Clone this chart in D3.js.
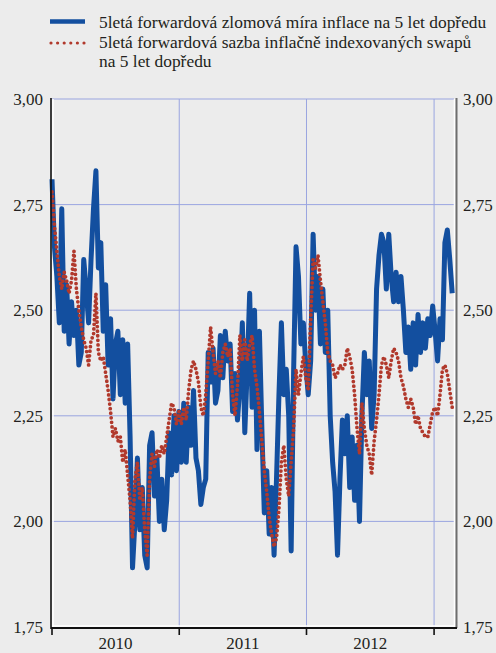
<!DOCTYPE html>
<html>
<head>
<meta charset="utf-8">
<script src="https://cdn.jsdelivr.net/npm/d3@7"></script>
<style>
  body { margin: 0; background: #ececec; }
  svg { display: block; }
  text { font-family: "Liberation Serif", "Times New Roman", serif; fill: #231f20; }
</style>
</head>
<body>
<div id="chart"></div>
<script>
// weekly observations starting 1 Jan 2010
const startDate = new Date(2010, 0, 1)

// 5y5y breakeven inflation rate
const breakeven = [
  2.81,2.65,2.58,2.47,2.74,2.45,2.56,2.42,2.52,2.44,
  2.50,2.37,2.40,2.62,2.55,2.47,2.62,2.74,2.83,2.60,
  2.66,2.45,2.56,2.37,2.48,2.29,2.42,2.45,2.30,2.43,
  2.28,2.42,2.20,1.89,2.00,2.15,1.98,2.08,1.92,1.89,
  2.18,2.21,2.06,2.15,2.00,2.10,1.98,2.05,2.21,2.11,
  2.25,2.12,2.26,2.14,2.28,2.14,2.27,2.18,2.31,2.15,
  2.12,2.04,2.08,2.10,2.40,2.33,2.41,2.28,2.31,2.44,
  2.34,2.45,2.38,2.42,2.26,2.35,2.24,2.32,2.47,2.21,
  2.36,2.54,2.27,2.50,2.17,2.45,2.22,2.02,2.12,1.97,
  2.08,1.92,2.10,2.30,2.47,2.30,2.36,2.25,1.93,2.35,
  2.65,2.58,2.42,2.47,2.37,2.30,2.38,2.68,2.50,2.58,
  2.42,2.55,2.40,2.50,2.25,2.14,2.07,1.92,2.10,2.24,
  2.16,2.25,2.08,2.20,2.05,2.18,2.00,2.25,2.40,2.30,
  2.38,2.22,2.30,2.55,2.63,2.68,2.66,2.55,2.68,2.58,
  2.52,2.59,2.52,2.58,2.50,2.40,2.46,2.36,2.47,2.37,
  2.49,2.40,2.47,2.41,2.48,2.44,2.51,2.45,2.38,2.48,
  2.43,2.66,2.69,2.62,2.54
]

// 5y5y inflation swap rate
const swaps = [
  2.78,2.70,2.64,2.58,2.55,2.59,2.57,2.54,2.57,2.64,
  2.55,2.50,2.46,2.43,2.41,2.37,2.43,2.44,2.54,2.40,
  2.38,2.39,2.35,2.31,2.26,2.20,2.22,2.19,2.20,2.14,
  2.17,2.11,2.05,1.96,2.10,2.14,2.05,2.08,1.98,1.92,
  2.10,2.16,2.13,2.17,2.15,2.18,2.16,2.20,2.24,2.28,
  2.27,2.23,2.26,2.23,2.27,2.24,2.31,2.36,2.38,2.36,
  2.33,2.27,2.25,2.30,2.38,2.46,2.40,2.35,2.38,2.34,
  2.40,2.42,2.39,2.41,2.30,2.25,2.32,2.44,2.38,2.43,
  2.38,2.42,2.44,2.36,2.32,2.26,2.19,2.12,2.07,2.01,
  1.97,1.94,1.96,2.03,2.14,2.18,2.10,2.06,2.14,2.22,
  2.36,2.30,2.35,2.39,2.34,2.31,2.48,2.62,2.60,2.63,
  2.57,2.52,2.47,2.40,2.38,2.37,2.34,2.35,2.37,2.36,
  2.37,2.41,2.39,2.36,2.30,2.22,2.16,2.28,2.22,2.18,
  2.16,2.11,2.19,2.24,2.30,2.37,2.39,2.37,2.34,2.38,
  2.41,2.40,2.38,2.34,2.32,2.29,2.27,2.29,2.27,2.23,
  2.25,2.22,2.21,2.20,2.20,2.23,2.26,2.27,2.25,2.30,
  2.36,2.37,2.35,2.31,2.27
]

const yTicks = [1.75, 2.00, 2.25, 2.50, 2.75, 3.00]
const years = [2010, 2011, 2012]
const legendLabels = [
  ["5letá forwardová zlomová míra inflace na 5 let dopředu"],
  ["5letá forwardová sazba inflačně indexovaných swapů", "na 5 let dopředu"]
]

const W = 496, H = 653
const M = { TOP: 99, BOTTOM: 26, LEFT: 52, RIGHT: 41 }
const BLUE = "#134f9f", RED = "#b1392c", GRID = "#9aa5e0"

const svg = d3.select("#chart").append("svg")
    .attr("width", W)
    .attr("height", H)

const dates = breakeven.map((_, i) => d3.timeDay.offset(startDate, 7 * i))
const fmt = d3.formatLocale({ decimal: ",", thousands: " ", grouping: [3], currency: ["", " Kč"] }).format(".2f")

//scales
const x = d3.scaleTime()
    .domain([new Date(2010, 0, 1), new Date(2013, 2, 2)])
    .range([M.LEFT, W - M.RIGHT])

const y = d3.scaleLinear()
    .domain([1.75, 3])
    .range([H - M.BOTTOM, M.TOP])

const x0 = M.LEFT, x1 = W - M.RIGHT, y0 = M.TOP, y1 = H - M.BOTTOM

// grid
svg.append("g").selectAll("line.h")
    .data(yTicks.filter(d => d > 1.75))
    .enter().append("line")
    .attr("x1", x0).attr("x2", x1 - 1)
    .attr("y1", d => y(d)).attr("y2", d => y(d))
    .attr("stroke", GRID).attr("stroke-width", 1)

const yearBounds = years.map(d => new Date(d, 0, 1)).concat([new Date(2013, 0, 1)])

svg.append("g").selectAll("line.v")
    .data(yearBounds.slice(1))
    .enter().append("line")
    .attr("x1", d => x(d)).attr("x2", d => x(d))
    .attr("y1", y0).attr("y2", y1)
    .attr("stroke", GRID).attr("stroke-width", 1)

// white frame
svg.append("line").attr("x1", x0 + 1).attr("x2", x0 + 1).attr("y1", y0).attr("y2", y1)
    .attr("stroke", "#fff").attr("stroke-width", 1.5)
svg.append("line").attr("x1", x1 - 0.5).attr("x2", x1 - 0.5).attr("y1", y0).attr("y2", y1)
    .attr("stroke", "#fff").attr("stroke-width", 1.5)
svg.append("line").attr("x1", x0).attr("x2", x1).attr("y1", y1 - 1).attr("y2", y1 - 1)
    .attr("stroke", "#fff").attr("stroke-width", 1.5)

// series
const line = d3.line()
    .x((d, i) => x(dates[i]))
    .y(d => y(d))

svg.append("path")
    .datum(breakeven)
    .attr("d", line)
    .attr("fill", "none")
    .attr("stroke", BLUE)
    .attr("stroke-width", 5)
    .attr("stroke-linejoin", "round")

svg.append("path")
    .datum(swaps)
    .attr("d", line)
    .attr("fill", "none")
    .attr("stroke", RED)
    .attr("stroke-width", 3.8)
    .attr("stroke-linecap", "round")
    .attr("stroke-dasharray", "0 4.6")

// axes lines
svg.append("line").attr("x1", x0 - 1).attr("x2", x0 - 1).attr("y1", y0 - 1).attr("y2", y1 + 2)
    .attr("stroke", "#111").attr("stroke-width", 1.6)
svg.append("line").attr("x1", x1 + 1.5).attr("x2", x1 + 1.5).attr("y1", y0 - 1).attr("y2", y1 + 1)
    .attr("stroke", "#6e6e6e").attr("stroke-width", 2)
svg.append("line").attr("x1", x0 - 1).attr("x2", x1 + 2).attr("y1", y1 + 1).attr("y2", y1 + 1)
    .attr("stroke", "#111").attr("stroke-width", 1.8)

// x ticks
svg.append("g").selectAll("line")
    .data(yearBounds)
    .enter().append("line")
    .attr("x1", d => x(d)).attr("x2", d => x(d))
    .attr("y1", y1 + 1).attr("y2", y1 + 8)
    .attr("stroke", "#111").attr("stroke-width", 1.6)

svg.append("g").selectAll("text")
    .data(years)
    .enter().append("text")
    .attr("x", d => (x(new Date(d, 0, 1)) + x(new Date(d + 1, 0, 1))) / 2)
    .attr("y", H - 4)
    .attr("text-anchor", "middle")
    .attr("font-size", 17)
    .text(d => d)

// y axes
const yAxisL = d3.axisLeft(y).tickValues(yTicks).tickSize(0).tickPadding(8).tickFormat(fmt)
const yAxisR = d3.axisRight(y).tickValues(yTicks).tickSize(0).tickPadding(6).tickFormat(fmt)

svg.append("g").attr("transform", `translate(${x0 - 1}, 0)`).call(yAxisL)
svg.append("g").attr("transform", `translate(${x1 + 2}, 0)`).call(yAxisR)
svg.selectAll(".domain").remove()
svg.selectAll(".tick text")
    .attr("font-size", 17)
    .attr("font-family", "Liberation Serif, Times New Roman, serif")
    .attr("fill", "#231f20")

// legend
const legend = svg.append("g")
legend.append("line").attr("x1", 50).attr("x2", 85).attr("y1", 21.5).attr("y2", 21.5)
    .attr("stroke", BLUE).attr("stroke-width", 4.5)
legend.append("line").attr("x1", 51).attr("x2", 85).attr("y1", 43).attr("y2", 43)
    .attr("stroke", RED).attr("stroke-width", 3.2).attr("stroke-linecap", "round")
    .attr("stroke-dasharray", "0 6.6")

const legendRows = [[legendLabels[0][0], 28], [legendLabels[1][0], 48], [legendLabels[1][1], 67]]
legend.selectAll("text")
    .data(legendRows)
    .enter().append("text")
    .attr("x", 99)
    .attr("y", d => d[1])
    .attr("font-size", 17.4)
    .text(d => d[0])
</script>
</body>
</html>
